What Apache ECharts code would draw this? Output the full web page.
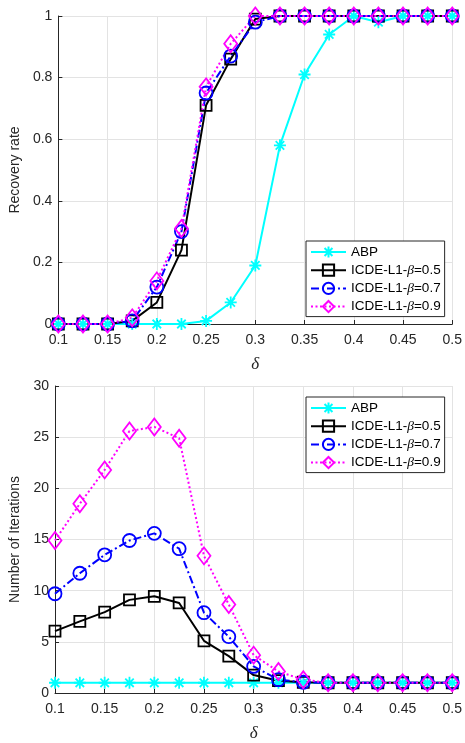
<!DOCTYPE html>
<html>
<head>
<meta charset="utf-8">
<script src="https://cdn.jsdelivr.net/npm/echarts@6/dist/echarts.min.js"></script>
<style>
  html, body { margin: 0; padding: 0; background: #fff; }
  #chart { width: 465px; height: 743px; }
</style>
</head>
<body>
<div id="chart"></div>
<script>
// Sampling ratio delta on the horizontal axis
var delta = [0.1, 0.125, 0.15, 0.175, 0.2, 0.225, 0.25, 0.275, 0.3, 0.325, 0.35, 0.375, 0.4, 0.425, 0.45, 0.475, 0.5];

var seriesNames = ['ABP', 'ICDE-L1-β=0.5', 'ICDE-L1-β=0.7', 'ICDE-L1-β=0.9'];

// Recovery rate per method
var rateABP  = [0, 0, 0, 0, 0, 0, 0.01, 0.07, 0.19, 0.58, 0.81, 0.94, 1, 0.98, 1, 1, 1];
var rateB05  = [0, 0, 0, 0.01, 0.07, 0.24, 0.71, 0.86, 0.99, 1, 1, 1, 1, 1, 1, 1, 1];
var rateB07  = [0, 0, 0, 0.01, 0.12, 0.30, 0.75, 0.87, 0.98, 1, 1, 1, 1, 1, 1, 1, 1];
var rateB09  = [0, 0, 0, 0.02, 0.14, 0.31, 0.77, 0.91, 1, 1, 1, 1, 1, 1, 1, 1, 1];

// Number of iterations per method
var iterABP  = [1, 1, 1, 1, 1, 1, 1, 1, 1, 1, 1, 1, 1, 1, 1, 1, 1];
var iterB05  = [6.05, 7.0, 7.9, 9.1, 9.45, 8.8, 5.1, 3.6, 1.75, 1.2, 1.05, 1, 1, 1, 1, 1, 1];
var iterB07  = [9.7, 11.7, 13.5, 14.9, 15.6, 14.1, 7.85, 5.5, 2.6, 1.3, 1.05, 1, 1, 1, 1, 1, 1];
var iterB09  = [14.9, 18.5, 21.8, 25.6, 26.0, 24.9, 13.4, 8.65, 3.7, 2.1, 1.3, 1, 1, 1, 1, 1, 1];

// Tick labels
var xTicks = ['0.1', '0.15', '0.2', '0.25', '0.3', '0.35', '0.4', '0.45', '0.5'];
var rateTicks = ['0', '0.2', '0.4', '0.6', '0.8', '1'];
var iterTicks = ['0', '5', '10', '15', '20', '25', '30'];

var FONT = 'Liberation Sans';
var AXIS = '#262626';
var GRID = '#e3e3e3';

function pairs(ys) {
  return delta.map(function (x, i) { return [x, ys[i]]; });
}

function tickFormatter(list, min, step) {
  return function (v) {
    var k = Math.round((v - min) / step);
    return list[k] !== undefined ? list[k] : '';
  };
}

var asterisk = 'path://M0,-10L0,10M-10,0L10,0M-7.07,-7.07L7.07,7.07M-7.07,7.07L7.07,-7.07';

var styles = [
  { symbol: asterisk, symbolSize: 12, color: '#00ffff', type: 'solid' },
  { symbol: 'rect', symbolSize: 11, color: '#000000', type: 'solid' },
  { symbol: 'circle', symbolSize: 13, color: '#0000ff', type: [8, 3, 2, 3] },
  { symbol: 'diamond', symbolSize: [13, 17], color: '#ff00ff', type: [2, 2.5] }
];

function makeSeries(idx, ys, axisIndex) {
  var s = styles[idx];
  return {
    name: seriesNames[idx],
    type: 'line',
    xAxisIndex: axisIndex,
    yAxisIndex: axisIndex,
    data: pairs(ys),
    symbol: s.symbol,
    symbolSize: s.symbolSize,
    showAllSymbol: true,
    animation: false,
    lineStyle: { color: s.color, width: 2, type: s.type },
    itemStyle: { color: 'rgba(0,0,0,0)', borderColor: s.color, borderWidth: 1.8 },
    emphasis: { disabled: true }
  };
}

function xAxisCfg(gridIndex) {
  return {
    type: 'value', gridIndex: gridIndex, min: 0.1, max: 0.5, interval: 0.05,
    name: 'δ', nameLocation: 'middle', nameGap: 32,
    nameTextStyle: { fontFamily: 'Liberation Serif', fontStyle: 'italic', fontSize: 17, color: AXIS },
    axisLine: { show: true, onZero: false, lineStyle: { color: AXIS, width: 1 } },
    axisTick: { show: true, inside: true, length: 4, lineStyle: { color: AXIS } },
    axisLabel: { fontFamily: FONT, fontSize: 14, color: AXIS, margin: 9,
                 formatter: tickFormatter(xTicks, 0.1, 0.05) },
    splitLine: { show: true, lineStyle: { color: GRID, width: 1 } }
  };
}

function yAxisCfg(gridIndex, name, max, step, ticks, gap) {
  return {
    type: 'value', gridIndex: gridIndex, min: 0, max: max, interval: step,
    name: name, nameLocation: 'middle', nameGap: gap,
    nameTextStyle: { fontFamily: FONT, fontSize: 14, color: AXIS },
    axisLine: { show: true, lineStyle: { color: AXIS, width: 1 } },
    axisTick: { show: true, inside: true, length: 4, lineStyle: { color: AXIS } },
    axisLabel: { fontFamily: FONT, fontSize: 14, color: AXIS, margin: 6,
                 formatter: tickFormatter(ticks, 0, step) },
    splitLine: { show: true, lineStyle: { color: GRID, width: 1 } }
  };
}

function legendCfg(top) {
  return {
    orient: 'vertical', left: 306, top: top,
    data: seriesNames,
    itemWidth: 35, itemHeight: 14, itemGap: 4.2,
    padding: [4, 4, 3, 4],
    backgroundColor: '#ffffff',
    borderColor: AXIS, borderWidth: 1,
    selectedMode: false,
    formatter: function (name) {
      var p = name.split('β');
      if (p.length === 1) return '{n|' + name + '}';
      return '{n|' + p[0] + '}{b|β}{n|' + p[1] + '}';
    },
    textStyle: {
      color: '#000', fontFamily: FONT, fontSize: 13.5,
      rich: {
        n: { fontFamily: FONT, fontSize: 13.5, color: '#000' },
        b: { fontFamily: 'Liberation Serif', fontStyle: 'italic', fontSize: 13.5, color: '#000' }
      }
    }
  };
}

var chart = echarts.init(document.getElementById('chart'), null, { renderer: 'canvas' });
chart.setOption({
  animation: false,
  backgroundColor: '#ffffff',
  grid: [
    { left: 55, right: 12, top: 16, height: 308 },
    { left: 55, right: 12, top: 386, height: 315 }
  ],
  xAxis: [xAxisCfg(0), xAxisCfg(1)],
  yAxis: [
    yAxisCfg(0, 'Recovery rate', 1, 0.2, rateTicks, 32),
    yAxisCfg(1, 'Number of Iterations', 30, 5, iterTicks, 32)
  ],
  legend: [legendCfg(241), legendCfg(397)],
  series: [
    makeSeries(0, rateABP, 0),
    makeSeries(1, rateB05, 0),
    makeSeries(2, rateB07, 0),
    makeSeries(3, rateB09, 0),
    makeSeries(0, iterABP, 1),
    makeSeries(1, iterB05, 1),
    makeSeries(2, iterB07, 1),
    makeSeries(3, iterB09, 1)
  ]
});
</script>
</body>
</html>
